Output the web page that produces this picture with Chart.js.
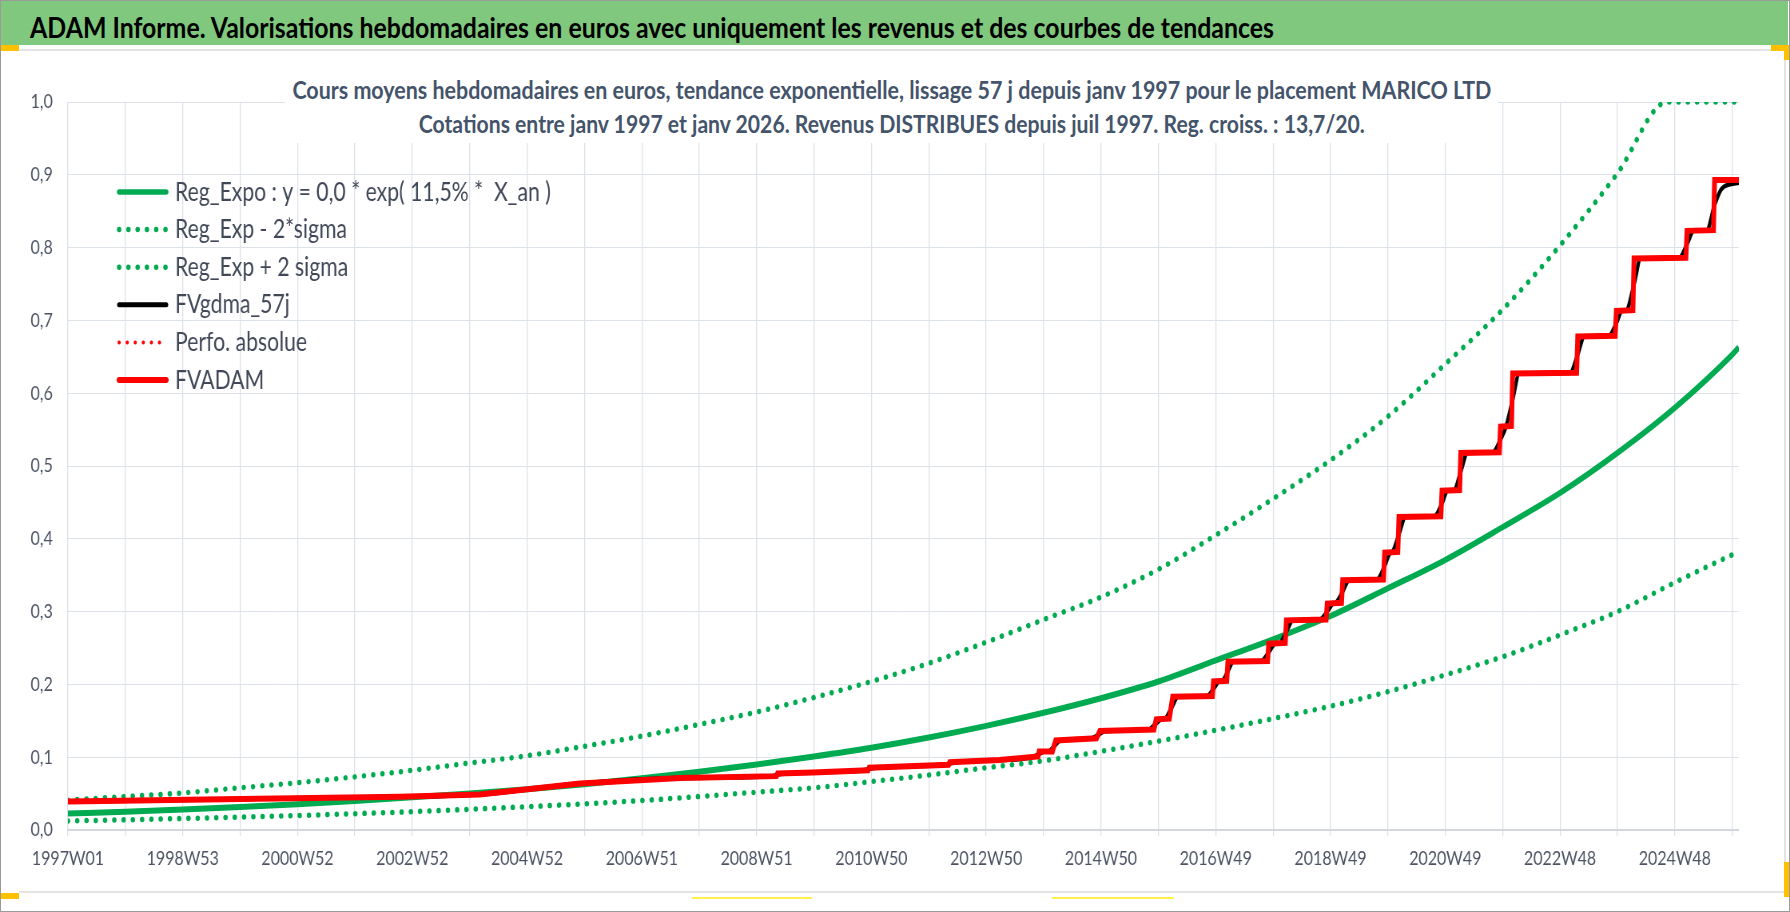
<!DOCTYPE html>
<html lang="fr">
<head>
<meta charset="utf-8">
<title>ADAM Informe - MARICO LTD</title>
<script src="https://cdn.jsdelivr.net/npm/chart.js@4.4.1/dist/chart.umd.min.js"></script>
<style>
  html, body { margin: 0; padding: 0; background: #fff; }
  #page { position: relative; width: 1790px; height: 912px; overflow: hidden; background: #fff; font-family: Lato, "Open Sans", sans-serif; }
  #chart { position: absolute; left: 0; top: 0; transform-origin: 0 0; }
  .deco { position: absolute; }
  #header { left: 1px; top: 1px; width: 1787px; height: 44px; background: #7fc87e; }
  #header span { position: absolute; left: 29px; top: 9px; font-weight: 700; font-size: 28px; color: #000; white-space: nowrap; transform-origin: 0 0; }
  #subtitle { left: 285px; top: 66px; width: 1213px; height: 77px; background: #fff; }
  #subtitle div { position: absolute; left: 0; width: 100%; display: flex; justify-content: center; font-weight: 700; font-size: 24px; color: #44546a; white-space: nowrap; }
  #subtitle span { display: inline-block; flex: none; transform-origin: 50% 50%; }
  .pale { background: #e3e3e3; }
  .orange { background: #ffc000; }
  .yellow { background: #fff04b; }
  #frame { left: 0; top: 0; width: 1790px; height: 912px; box-sizing: border-box; border: 1px solid #9a9a9a; }
</style>
</head>
<body>
<div id="page">
  <canvas id="chart" width="2240" height="912"></canvas>

  <div id="header" class="deco"><span data-fit="1244">ADAM Informe. Valorisations hebdomadaires en euros avec uniquement les revenus et des courbes de tendances</span></div>
  <div id="subtitle" class="deco">
    <div style="top: 9px;"><span data-fit="1199">Cours moyens hebdomadaires en euros, tendance exponentielle, lissage 57 j depuis janv 1997 pour le placement MARICO LTD</span></div>
    <div style="top: 43px;"><span data-fit="946">Cotations entre janv 1997 et janv 2026. Revenus DISTRIBUES depuis juil 1997. Reg. croiss. : 13,7/20.</span></div>
  </div>

  <!-- sheet decorations around the chart object -->
  <div class="deco pale" style="left:19px; top:49px; width:1752px; height:2px;"></div>
  <div class="deco pale" style="left:1784px; top:51px; width:2px; height:841px;"></div>
  <div class="deco pale" style="left:19px; top:891px; width:1766px; height:2px;"></div>
  <div class="deco orange" style="left:1px; top:45px; width:18px; height:6px;"></div>
  <div class="deco orange" style="left:1771px; top:45px; width:18px; height:6px;"></div>
  <div class="deco orange" style="left:1784px; top:45px; width:5px; height:15px;"></div>
  <div class="deco orange" style="left:1px; top:893px; width:18px; height:6px;"></div>
  <div class="deco orange" style="left:1784px; top:862px; width:5px; height:35px;"></div>
  <div class="deco yellow" style="left:692px; top:897px; width:120px; height:2px;"></div>
  <div class="deco yellow" style="left:1052px; top:897px; width:122px; height:2px;"></div>
  <div id="frame" class="deco"></div>
</div>

<script>
// ---- data (x = week index since 1997W01) ----

// tick labels, one label every second yearly gridline (104 weeks)
const xTickLabels = ["1997W01", "1998W53", "2000W52", "2002W52", "2004W52", "2006W51", "2008W51",
  "2010W50", "2012W50", "2014W50", "2016W49", "2018W49", "2020W49", "2022W48", "2024W48"];
const yTickLabels = ["0,0", "0,1", "0,2", "0,3", "0,4", "0,5", "0,6", "0,7", "0,8", "0,9", "1,0"];

// yearly sample weeks for the trend curves
const trendWeeks = [0, 52, 104, 156, 208, 260, 312, 364, 416, 468, 520, 572, 624, 676, 728, 780,
  832, 884, 936, 988, 1040, 1092, 1144, 1196, 1248, 1300, 1352, 1404, 1456, 1508, 1514];

const regExpo = [0.0225, 0.025, 0.028, 0.0315, 0.0355, 0.040, 0.045, 0.050, 0.056, 0.063, 0.071,
  0.080, 0.090, 0.101, 0.113, 0.127, 0.143, 0.161, 0.181, 0.204, 0.233, 0.262, 0.294, 0.332,
  0.371, 0.416, 0.463, 0.518, 0.580, 0.653, 0.663];

const regMinus = [0.0125, 0.014, 0.0158, 0.0177, 0.0199, 0.0224, 0.0252, 0.0285, 0.032, 0.036,
  0.0405, 0.046, 0.052, 0.058, 0.0665, 0.0755, 0.0855, 0.095, 0.108, 0.122, 0.137, 0.153, 0.170,
  0.190, 0.213, 0.238, 0.268, 0.300, 0.340, 0.378, 0.382];

// upper band is cut at the top of the axis (1,0)
const plusWeeks = [0, 52, 104, 156, 208, 260, 312, 364, 416, 468, 520, 572, 624, 676, 728, 780,
  832, 884, 936, 988, 1040, 1092, 1144, 1196, 1248, 1300, 1352, 1404, 1449, 1508, 1514];
const regPlus = [0.041, 0.046, 0.051, 0.058, 0.065, 0.073, 0.082, 0.092, 0.102, 0.115, 0.129,
  0.145, 0.162, 0.182, 0.204, 0.229, 0.258, 0.289, 0.320, 0.358, 0.405, 0.455, 0.508, 0.568,
  0.640, 0.715, 0.803, 0.902, 1.0, 1.0, 1.0];

// FVADAM : [week, value], flat plateaus with a jump at each distribution
const fvadamSteps = [
  [0, 0.039], [156, 0.0425], [301, 0.0458], [373, 0.0487], [464, 0.064], [555, 0.0714],
  [642, 0.074], [643, 0.0775], [675, 0.079], [725, 0.082], [726, 0.0855], [798, 0.0897],
  [799, 0.093], [844, 0.096], [879, 0.101], [880, 0.108], [892, 0.108], [895, 0.123],
  [932, 0.126], [935, 0.136], [984, 0.138], [986, 0.152], [998, 0.153], [1001, 0.183],
  [1037, 0.184], [1038, 0.204], [1050, 0.205], [1051, 0.231], [1087, 0.232], [1088, 0.256],
  [1103, 0.257], [1104, 0.288], [1140, 0.289], [1141, 0.311], [1154, 0.312], [1155, 0.343],
  [1192, 0.344], [1193, 0.381], [1205, 0.382], [1206, 0.430], [1244, 0.431], [1245, 0.466],
  [1261, 0.467], [1262, 0.518], [1297, 0.519], [1298, 0.554], [1308, 0.555], [1309, 0.627],
  [1367, 0.628], [1368, 0.678], [1402, 0.679], [1403, 0.713], [1418, 0.714], [1419, 0.785],
  [1466, 0.786], [1467, 0.823], [1491, 0.824], [1492, 0.893], [1514, 0.893]
];

// FVgdma_57j : smoothed curve, S-shaped around every jump of FVADAM
const gdmaCurve = [
  [0, 0.039], [156, 0.0425], [301, 0.0458], [373, 0.0487], [464, 0.064], [555, 0.0714],
  [637, 0.074], [643, 0.0758], [649, 0.0775], [675, 0.079], [720, 0.082], [726, 0.0838],
  [732, 0.0855], [793, 0.0897], [799, 0.0913], [805, 0.093], [844, 0.096], [874, 0.1003],
  [880, 0.1045], [885, 0.108], [888, 0.108], [894, 0.1155], [899, 0.123], [927, 0.1257],
  [934, 0.131], [940, 0.136], [979, 0.138], [985, 0.145], [991, 0.152], [994, 0.1528],
  [1000, 0.168], [1006, 0.183], [1032, 0.184], [1038, 0.194], [1043, 0.204], [1046, 0.2052],
  [1051, 0.218], [1056, 0.231], [1081, 0.232], [1088, 0.244], [1094, 0.256], [1098, 0.2567],
  [1104, 0.2725], [1110, 0.288], [1134, 0.289], [1141, 0.300], [1146, 0.3105], [1149, 0.3125],
  [1155, 0.3275], [1161, 0.343], [1186, 0.344], [1193, 0.3625], [1198, 0.3805], [1200, 0.382],
  [1206, 0.406], [1212, 0.430], [1238, 0.431], [1245, 0.4485], [1250, 0.466], [1256, 0.467],
  [1262, 0.4925], [1268, 0.518], [1291, 0.519], [1298, 0.5365], [1303, 0.554], [1309, 0.591],
  [1315, 0.627], [1361, 0.628], [1368, 0.653], [1374, 0.678], [1396, 0.679], [1403, 0.696],
  [1408, 0.713], [1412, 0.7138], [1419, 0.7495], [1425, 0.785], [1460, 0.786], [1467, 0.8045],
  [1473, 0.823], [1485, 0.824], [1492, 0.8585], [1498, 0.880], [1506, 0.887], [1514, 0.889]
];

// "Perfo. absolue" has no visible trace in the picture
const perfoAbsolue = [];

// ---- styles ----
const GREEN = "#00aa50";
const RED = "#ff0000";
const GRID = "#dde1e8";
const TICK = "#4b5363";
const DOTS = [0.1, 11.5];

// the picture is horizontally squeezed: the canvas is drawn wider, then scaled
const CANVAS_W = 2240;
const SQUEEZE = 1790 / CANVAS_W;

/**
 * Builds {x, y} points from two parallel arrays.
 * @param {number[]} xs
 * @param {number[]} ys
 * @returns {{x:number, y:number}[]}
 */
function toPoints(xs, ys) {
  return xs.map((x, i) => ({ x: x, y: ys[i] }));
}

/**
 * Builds {x, y} points from [x, y] pairs.
 * @param {number[][]} pairs
 */
function pairsToPoints(pairs) {
  return pairs.map(p => ({ x: p[0], y: p[1] }));
}

/**
 * Squeezes every text marked data-fit to its width in the reference.
 */
function fitTexts() {
  document.querySelectorAll("[data-fit]").forEach(el => {
    const natural = el.getBoundingClientRect().width;
    el.style.transform = "scaleX(" + (Number(el.dataset.fit) / natural) + ")";
  });
}

// legend drawn inside the plot, as in the workbook
const insideLegend = {
  id: "insideLegend",
  afterDatasetsDraw(chart, args, opts) {
    const ctx = chart.ctx;
    ctx.save();
    ctx.font = opts.font;
    ctx.textBaseline = "middle";
    chart.data.datasets.forEach((ds, i) => {
      const y = opts.top + i * opts.rowHeight;
      ctx.beginPath();
      ctx.strokeStyle = ds.borderColor;
      ctx.lineWidth = ds.legendWidth || ds.borderWidth;
      ctx.setLineDash(ds.borderDash || []);
      ctx.lineCap = "round";
      ctx.moveTo(opts.x, y);
      ctx.lineTo(opts.x + opts.sampleWidth, y);
      ctx.stroke();
      ctx.setLineDash([]);
      ctx.fillStyle = opts.color;
      ctx.fillText(ds.label, opts.x + opts.sampleWidth + opts.gap, y);
    });
    ctx.restore();
  }
};

fitTexts();

const canvas = document.getElementById("chart");
canvas.style.transform = "scaleX(" + SQUEEZE + ")";

Chart.defaults.font.family = "Lato, 'Open Sans', sans-serif";

new Chart(canvas, {
  type: "line",
  data: {
    datasets: [
      {
        label: "Reg_Expo : y = 0,0 * exp( 11,5% *  X_an )",
        data: toPoints(trendWeeks, regExpo),
        borderColor: GREEN, borderWidth: 6, legendWidth: 5.5,
        cubicInterpolationMode: "monotone", order: 3
      },
      {
        label: "Reg_Exp - 2*sigma",
        data: toPoints(trendWeeks, regMinus),
        borderColor: GREEN, borderWidth: 5.5, borderDash: DOTS, borderCapStyle: "round",
        cubicInterpolationMode: "monotone", order: 4
      },
      {
        label: "Reg_Exp + 2 sigma",
        data: toPoints(plusWeeks, regPlus),
        borderColor: GREEN, borderWidth: 5.5, borderDash: DOTS, borderCapStyle: "round",
        cubicInterpolationMode: "monotone", order: 5
      },
      {
        label: "FVgdma_57j",
        data: pairsToPoints(gdmaCurve),
        borderColor: "#000000", borderWidth: 4.5, legendWidth: 5,
        cubicInterpolationMode: "monotone", order: 2
      },
      {
        label: "Perfo. absolue",
        data: perfoAbsolue,
        borderColor: RED, borderWidth: 4, borderDash: [0.1, 10], borderCapStyle: "round", order: 1
      },
      {
        label: "FVADAM",
        data: pairsToPoints(fvadamSteps),
        borderColor: RED, borderWidth: 6, borderJoinStyle: "miter", order: 0
      }
    ]
  },
  options: {
    responsive: false,
    animation: false,
    events: [],
    layout: { padding: { top: 102, right: 64, bottom: 0, left: 0 } },
    elements: { point: { radius: 0 } },
    plugins: {
      legend: { display: false },
      tooltip: { enabled: false },
      insideLegend: {
        x: 149, top: 192, rowHeight: 37.6, sampleWidth: 59, gap: 11,
        font: "26.5px Lato, 'Open Sans', sans-serif", color: "#404858"
      }
    },
    scales: {
      x: {
        type: "linear",
        min: 0,
        max: 1514,
        afterFit: scale => { scale.height = 82; },
        grid: { color: GRID, lineWidth: 1.3, tickLength: 6 },
        border: { color: "#d3d6dc", width: 2 },
        ticks: {
          stepSize: 52,
          includeBounds: false,
          autoSkip: false,
          maxRotation: 0,
          minRotation: 0,
          padding: 11,
          color: TICK,
          font: { size: 20 },
          callback: (value, index) => (index % 2 === 0 ? xTickLabels[index / 2] : "")
        }
      },
      y: {
        min: 0,
        max: 1,
        afterFit: scale => { scale.width = 85; },
        grid: { color: GRID, lineWidth: 1, drawTicks: false },
        border: { display: false },
        ticks: {
          stepSize: 0.1,
          padding: 19,
          color: TICK,
          font: { size: 20 },
          callback: (value, index) => yTickLabels[index]
        }
      }
    }
  },
  plugins: [insideLegend]
});
</script>
</body>
</html>
